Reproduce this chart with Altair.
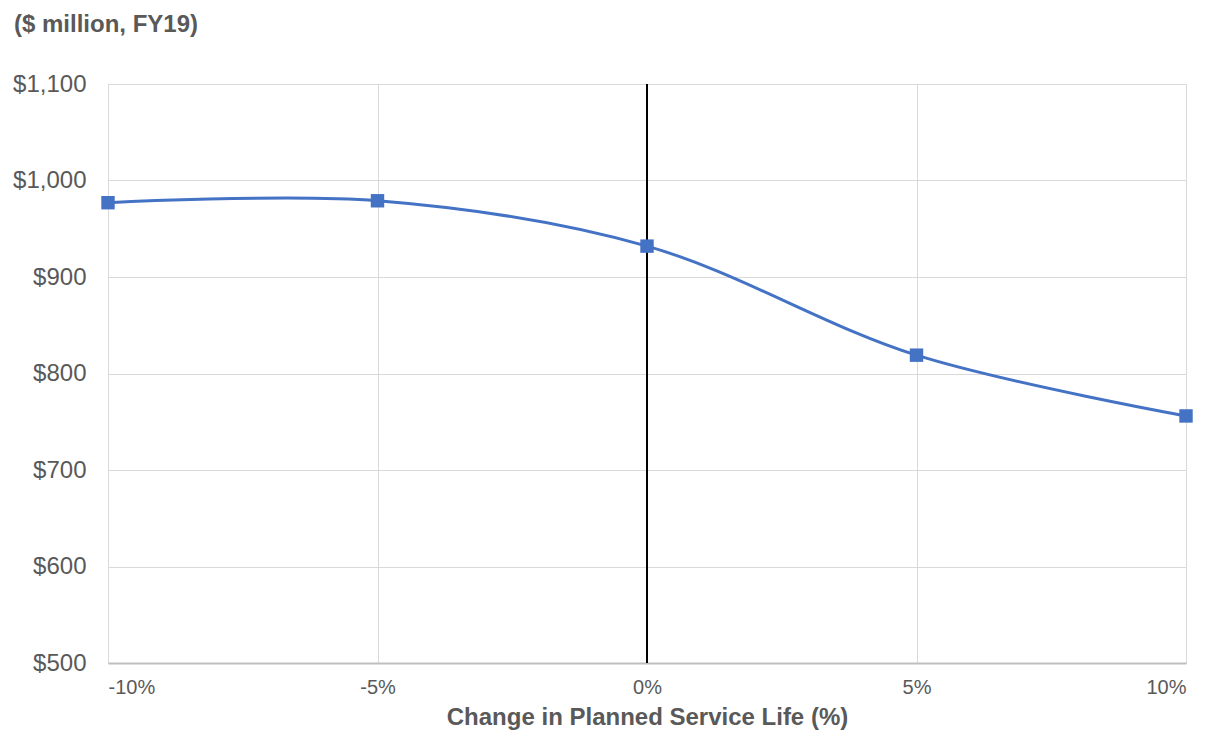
import altair as alt
import pandas as pd

change_pct = [-10, -5, 0, 5, 10]
cost = [977, 979, 932, 819, 756]
x_ticks = [-10, -5, 0, 5, 10]
y_ticks = [500, 600, 700, 800, 900, 1000, 1100]

df = pd.DataFrame({"x": change_pct, "y": cost})

FONT = "Liberation Sans"
GRAY = "#595959"

xscale = alt.Scale(domain=[-10, 10], nice=False)
yscale = alt.Scale(domain=[500, 1100], nice=False)

base = alt.Chart(df)

line = base.mark_line(color="#4472C4", strokeWidth=3, interpolate="catmull-rom").encode(
    x=alt.X("x:Q", scale=xscale,
            axis=alt.Axis(values=x_ticks, labelExpr="datum.value + '%'",
                          title="Change in Planned Service Life (%)",
                          titleFont=FONT, titleFontSize=24, titleFontWeight="bold",
                          titleColor=GRAY, titlePadding=8,
                          labelFont=FONT, labelFontSize=20, labelColor=GRAY,
                          labelPadding=14, ticks=False,
                          domainColor="#bfbfbf", domainWidth=2,
                          grid=True, gridColor="#d9d9d9", gridWidth=1)),
    y=alt.Y("y:Q", scale=yscale,
            axis=alt.Axis(values=y_ticks, labelExpr="'$' + format(datum.value, ',')",
                          title=None, labelFont=FONT, labelFontSize=24,
                          labelColor=GRAY, labelPadding=22, ticks=False, domain=False,
                          grid=True, gridColor="#d9d9d9", gridWidth=1)),
)

points = base.mark_point(shape="square", filled=True, color="#4472C4", size=180, opacity=1).encode(
    x=alt.X("x:Q", scale=xscale),
    y=alt.Y("y:Q", scale=yscale),
)

zero = alt.Chart(pd.DataFrame({"x": [0]})).mark_rule(color="black", strokeWidth=2).encode(
    x=alt.X("x:Q", scale=xscale)
)

title = alt.Chart(pd.DataFrame({"t": ["($ million, FY19)"]})).mark_text(
    font=FONT, fontSize=24, fontWeight="bold", color=GRAY, align="left", baseline="alphabetic"
).encode(text="t:N", x=alt.value(-94), y=alt.value(-52))

chart = alt.layer(zero, line, points, title).properties(
    width=1078, height=579,
    padding={"left": 100, "top": 76, "right": 23, "bottom": 70},
    autosize=alt.AutoSizeParams(type="none"),
).configure_view(stroke=None).configure(background="white")

chart.save("out.html", embed_options={"renderer": "svg", "actions": False})
